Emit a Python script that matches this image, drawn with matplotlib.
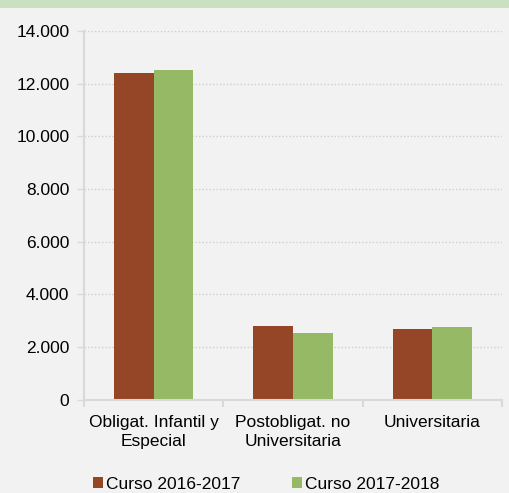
"""
Alumnado por nivel educativo: cursos 2016-2017 y 2017-2018
"""

import numpy as np
import matplotlib.pyplot as plt
from matplotlib.patches import Rectangle
from matplotlib.ticker import FuncFormatter, FixedLocator

categories = ["Obligat. Infantil y\nEspecial", "Postobligat. no\nUniversitaria", "Universitaria"]
curso_2016 = [12400, 2810, 2690]
curso_2017 = [12520, 2540, 2770]
series_labels = ["Curso 2016-2017", "Curso 2017-2018"]

BROWN = "#954627"
GREEN = "#95b964"
BG = "#f2f2f2"
LINE = "#d9d9d9"
FS = 12.5

plt.rcParams["font.family"] = ["Liberation Sans", "DejaVu Sans"]

fig = plt.figure(figsize=(5.09, 4.93), dpi=100, facecolor=BG)
ax = fig.add_axes([0.165, 0.189, 0.821, 0.748], facecolor=BG)

# Green strip across the top
fig.patches.append(Rectangle((0, 0.984), 1, 0.016, transform=fig.transFigure,
                             facecolor="#cbdfc1", edgecolor="none"))

x = np.arange(len(categories))
w = 0.285
ax.bar(x - w / 2, curso_2016, w, color=BROWN, label=series_labels[0])
ax.bar(x + w / 2, curso_2017, w, color=GREEN, label=series_labels[1])

ax.set_xlim(-0.5, len(categories) - 0.5)
ax.set_ylim(0, 14000)
ax.set_yticks(np.arange(0, 14001, 2000))
ax.yaxis.set_major_formatter(FuncFormatter(lambda v, p: f"{int(v):,}".replace(",", ".")))
ax.yaxis.grid(True, linestyle=(0, (1, 1.5)), color="#cfcfcf", linewidth=1)
ax.set_axisbelow(True)

ax.set_xticks(x)
ax.set_xticklabels(categories, fontsize=FS, linespacing=1.35)
ax.tick_params(axis="x", length=0, pad=11)
ax.xaxis.set_minor_locator(FixedLocator(np.arange(-0.5, len(categories), 1)))
ax.tick_params(axis="x", which="minor", length=5, width=1.5, color=LINE)
ax.tick_params(axis="y", length=5, width=1, color=LINE, labelsize=FS, pad=5.5)

for s in ["top", "right"]:
    ax.spines[s].set_visible(False)
for s in ["left", "bottom"]:
    ax.spines[s].set_color(LINE)
    ax.spines[s].set_linewidth(1.5)

fig.legend(loc="center", bbox_to_anchor=(0.523, 0.018), ncol=2, frameon=False,
           fontsize=FS, handlelength=0.55, handleheight=0.55, handletextpad=0.17,
           columnspacing=3.0, borderpad=0)

plt.savefig("out.png", dpi=100, facecolor=BG)
